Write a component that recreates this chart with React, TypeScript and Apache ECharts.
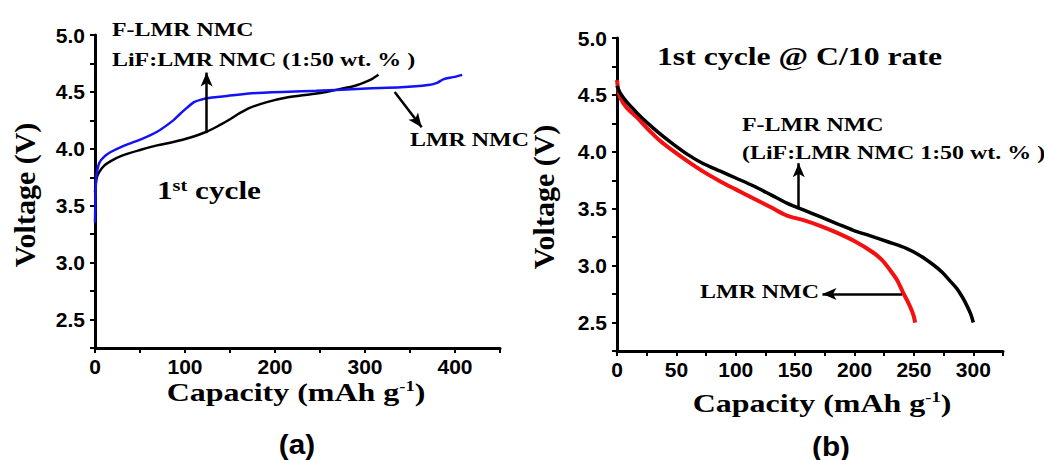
import React, { useEffect, useRef } from "react";
import * as echarts from "echarts";

// (a) first-cycle charge curves: [capacity mAh/g, voltage V]
const chargeFLMR: [number, number][] = [
  [0, 3.62], [1, 3.7], [2, 3.75], [5, 3.8], [10, 3.85], [17, 3.89], [30, 3.94],
  [50, 3.99], [69, 4.03], [87, 4.06], [106, 4.1], [124, 4.15], [139, 4.21],
  [150, 4.26], [160, 4.31], [172, 4.36], [191, 4.41], [213, 4.45], [240, 4.48],
  [257, 4.5], [275, 4.53], [287, 4.55], [298, 4.58], [307, 4.61], [315, 4.65],
];
const chargeLMR: [number, number][] = [
  [0, 3.35], [0.5, 3.55], [1, 3.7], [2, 3.79], [5, 3.88], [10, 3.93], [17, 3.97],
  [30, 4.02], [50, 4.08], [69, 4.15], [87, 4.25], [95, 4.31], [102, 4.36],
  [110, 4.41], [117, 4.43], [130, 4.45], [142, 4.46], [180, 4.49], [246, 4.51],
  [302, 4.53], [340, 4.54], [370, 4.56], [380, 4.58], [387, 4.61], [398, 4.63],
  [408, 4.65],
];

// (b) first-cycle discharge curves at C/10
const dischargeFLMR: [number, number][] = [
  [0, 4.58], [2.5, 4.52], [8, 4.44], [17, 4.34], [26, 4.25], [36, 4.16],
  [47, 4.07], [59, 3.98], [72, 3.9], [87, 3.83], [100, 3.77], [115, 3.7],
  [130, 3.62], [143, 3.55], [157, 3.49], [171, 3.43], [185, 3.37], [199, 3.31],
  [214, 3.26], [228, 3.21], [244, 3.15], [255, 3.09], [266, 3.01], [274, 2.94],
  [280, 2.87], [286, 2.8], [291, 2.72], [295, 2.64], [298, 2.57], [300, 2.5],
];
const dischargeLMR: [number, number][] = [
  [0, 4.63], [1, 4.55], [2.5, 4.48], [8, 4.39], [17, 4.3], [26, 4.2], [36, 4.1],
  [47, 4.01], [59, 3.92], [72, 3.83], [87, 3.74], [100, 3.67], [115, 3.59],
  [130, 3.51], [143, 3.44], [157, 3.4], [171, 3.35], [185, 3.29], [199, 3.22],
  [215, 3.12], [223, 3.05], [230, 2.96], [236, 2.87], [241, 2.76], [245, 2.68],
  [248, 2.61], [250, 2.55], [251, 2.5],
];

// annotation arrows in data coordinates: [from, to]
const arrowA1: [number, number][] = [[124, 4.14], [124, 4.67]];
const arrowA2: [number, number][] = [[333, 4.5], [363, 4.19]];
const arrowB1: [number, number][] = [[153, 3.51], [153, 3.9]];
const arrowB2: [number, number][] = [[240, 2.75], [173, 2.75]];

const SANS = "'Liberation Sans', Arial, sans-serif";
const SERIF = "'Liberation Serif', 'Times New Roman', serif";

const halfStep = (v: number) => Math.abs(v * 2 - Math.round(v * 2)) < 1e-6;

function axisStyle() {
  return {
    axisLine: { show: true, onZero: false, lineStyle: { color: "#000", width: 3 } },
    axisTick: { show: true, inside: false, length: 5, lineStyle: { color: "#000", width: 2 } },
    splitLine: { show: false },
  };
}

function arrowMark(pts: [number, number][]) {
  return {
    silent: true,
    symbol: ["none", "arrow"],
    symbolSize: [9, 14],
    label: { show: false },
    lineStyle: { color: "#000", width: 2.5, type: "solid" },
    emphasis: { disabled: true },
    data: [[{ coord: pts[0] }, { coord: pts[1] }]],
  };
}

function label(
  text: string,
  x: number,
  y: number,
  size: number,
  scaleX = 1.26,
  align = "left",
  family = SERIF,
  rich?: any
) {
  return {
    type: "text",
    x,
    y,
    scaleX,
    silent: true,
    style: {
      text,
      x: 0,
      y: 0,
      fill: "#000",
      fontFamily: family,
      fontWeight: "bold",
      fontSize: size,
      textAlign: align,
      textVerticalAlign: "middle",
      rich,
    },
  };
}

const supRich = {
  sup: { fontFamily: SERIF, fontWeight: "bold", fontSize: 15, verticalAlign: "top", fill: "#000" },
};

function curve(name: string, grid: number, data: [number, number][], color: string, width: number, arrow: [number, number][]) {
  return {
    name,
    type: "line",
    xAxisIndex: grid,
    yAxisIndex: grid,
    data,
    showSymbol: false,
    smooth: 0.3,
    lineStyle: { color, width },
    markLine: arrowMark(arrow),
  };
}

export default function App() {
  const ref = useRef<HTMLDivElement>(null);

  useEffect(() => {
    if (!ref.current) return;
    const chart = echarts.init(ref.current, undefined, { renderer: "svg" });

    const tickLabel = { color: "#000", fontFamily: SANS, fontWeight: "bold", fontSize: 21 };

    chart.setOption({
      animation: false,
      backgroundColor: "#fff",
      grid: [
        { left: 95, top: 35, width: 405, height: 313 },
        { left: 617, top: 38, width: 386, height: 313 },
      ],
      xAxis: [
        {
          type: "value", gridIndex: 0, min: 0, max: 450, interval: 50,
          ...axisStyle(),
          axisLabel: { ...tickLabel, margin: 8, formatter: (v: number) => (v % 100 === 0 && v <= 400 ? String(v) : "") },
        },
        {
          type: "value", gridIndex: 1, min: 0, max: 325, interval: 25,
          ...axisStyle(),
          axisLabel: { ...tickLabel, margin: 8, formatter: (v: number) => (v % 50 === 0 && v <= 300 ? String(v) : "") },
        },
      ],
      yAxis: [
        {
          type: "value", gridIndex: 0, min: 2.25, max: 5.0, interval: 0.25,
          ...axisStyle(),
          axisLabel: { ...tickLabel, margin: 10, formatter: (v: number) => (halfStep(v) ? v.toFixed(1) : "") },
        },
        {
          type: "value", gridIndex: 1, min: 2.25, max: 5.0, interval: 0.25,
          ...axisStyle(),
          axisLabel: { ...tickLabel, margin: 10, formatter: (v: number) => (halfStep(v) ? v.toFixed(1) : "") },
        },
      ],
      series: [
        curve("F-LMR NMC (charge)", 0, chargeFLMR, "#000", 2.5, arrowA1),
        curve("LMR NMC (charge)", 0, chargeLMR, "#1212f5", 2.5, arrowA2),
        curve("LMR NMC (discharge)", 1, dischargeLMR, "#f41010", 4, arrowB2),
        curve("F-LMR NMC (discharge)", 1, dischargeFLMR, "#000", 3.5, arrowB1),
      ],
      graphic: [
        // axis titles
        label("Capacity (mAh g{sup|-1})", 296, 392, 26, 1.23, "center", SERIF, supRich),
        label("Capacity (mAh g{sup|-1})", 822, 403, 26, 1.23, "center", SERIF, supRich),
        { ...label("Voltage (V)", 24, 195, 30, 1, "center"), rotation: Math.PI / 2 },
        { ...label("Voltage (V)", 543, 197, 30, 1, "center"), rotation: Math.PI / 2 },
        // panel (a) notes
        label("F-LMR NMC", 112, 30, 19),
        label("LiF:LMR NMC (1:50 wt. % )", 112, 60, 19),
        label("1{sup|st} cycle", 157, 190, 26, 1.2, "left", SERIF, {
          sup: { fontFamily: SERIF, fontWeight: "bold", fontSize: 17, verticalAlign: "top", fill: "#000" },
        }),
        label("LMR NMC", 410, 140, 19),
        // panel (b) notes
        label("1st cycle @ C/10 rate", 657, 57, 25, 1.27),
        label("F-LMR NMC", 742, 125, 19),
        label("(LiF:LMR NMC 1:50 wt. % )", 742, 153, 19),
        label("LMR NMC", 700, 292, 19),
        // panel captions
        label("(a)", 297, 444, 27, 1.1, "center", SANS),
        label("(b)", 831, 446, 27, 1.1, "center", SANS),
      ],
    });

    return () => chart.dispose();
  }, []);

  return (
    <div
      ref={ref}
      style={{ position: "fixed", left: 0, top: 0, width: 1044, height: 460, background: "#fff" }}
    />
  );
}
